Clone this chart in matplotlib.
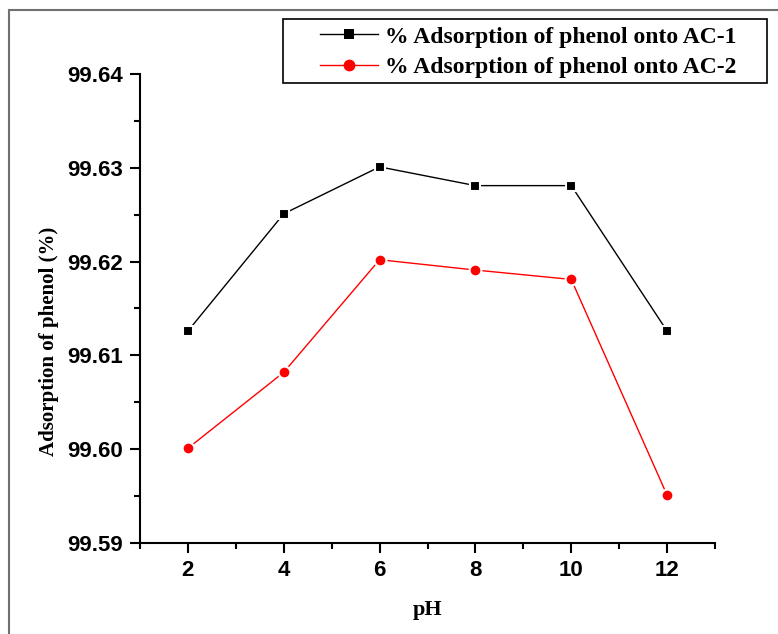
import matplotlib.pyplot as plt
from matplotlib.patches import Rectangle
from matplotlib.ticker import MultipleLocator

ph = [2, 4, 6, 8, 10, 12]
ac1 = [99.6126, 99.6251, 99.6301, 99.6281, 99.6281, 99.6126]
ac2 = [99.6001, 99.6082, 99.6202, 99.6191, 99.6181, 99.5951]
labels = ['% Adsorption of phenol onto AC-1', '% Adsorption of phenol onto AC-2']

W, H = 778, 634
fig = plt.figure(figsize=(W / 100, H / 100), dpi=100)
ax = fig.add_axes([140 / W, 91 / H, 575 / W, 469 / H])

# outer frame (only left and top edges fall inside the image)
fig.patches.append(Rectangle((9 / W, -0.1), 1.5, (624 / H) + 0.1, transform=fig.transFigure,
                             fill=False, edgecolor='#707070', linewidth=1.5))
# legend box, drawn separately so the padding can differ per side
fig.patches.append(Rectangle((283 / W, 1 - 83 / H), 484 / W, 64 / H, transform=fig.transFigure,
                             fill=True, facecolor='white', edgecolor='black', linewidth=1.2,
                             zorder=5))

ax.plot(ph, ac1, '-s', color='black', lw=1, ms=7.5, mec='white', mew=1.5, label=labels[0])
ax.plot(ph, ac2, '-o', color='red', lw=1, ms=8.5, mec='white', mew=1.5, label=labels[1])

ax.set_xlim(1, 13)
ax.set_ylim(99.59, 99.64)
ax.xaxis.set_major_locator(MultipleLocator(2))
ax.xaxis.set_minor_locator(MultipleLocator(1))
ax.yaxis.set_major_locator(MultipleLocator(0.01))
ax.yaxis.set_minor_locator(MultipleLocator(0.005))
ax.yaxis.set_major_formatter(plt.FormatStrFormatter('%.2f'))

for s in ['top', 'right']:
    ax.spines[s].set_visible(False)
for s in ['left', 'bottom']:
    ax.spines[s].set_linewidth(1.5)
ax.tick_params(which='major', direction='out', length=7, width=1.5, pad=5)
ax.tick_params(which='minor', direction='out', length=4, width=1.5)
for t in ax.get_xticklabels() + ax.get_yticklabels():
    t.set_fontfamily('Liberation Sans')
    t.set_fontweight('bold')
    t.set_fontsize(16)

ax.set_xlabel('pH', fontfamily='Liberation Serif', fontweight='bold', fontsize=16, labelpad=14)
ax.set_ylabel('Adsorption of phenol (%)', fontfamily='Liberation Serif', fontweight='bold',
              fontsize=15)
ax.yaxis.set_label_coords(59 / W, 293 / H, transform=fig.transFigure)

leg = fig.legend(loc='upper left', bbox_to_anchor=(320 / W, 1 - 26 / H),
                 prop={'family': 'Liberation Serif', 'weight': 'bold', 'size': 17},
                 frameon=False, borderpad=0, labelspacing=0.38, handlelength=2.45,
                 handletextpad=0.32, borderaxespad=0)
leg.set_zorder(6)
for h in leg.legend_handles:
    h.set_markeredgecolor('none')

fig.savefig('out.png', dpi=100)
